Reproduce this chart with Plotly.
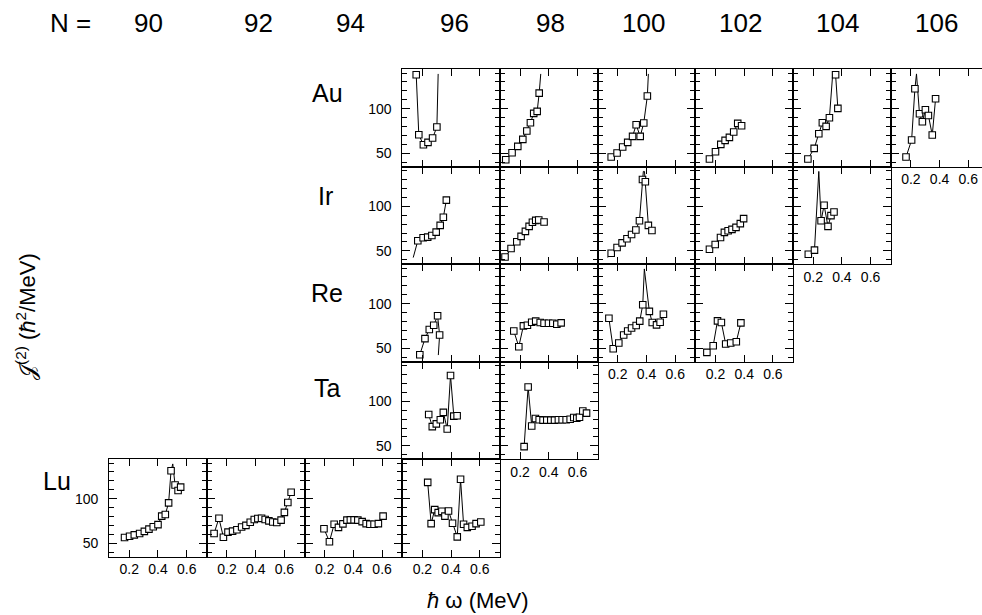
import plotly.graph_objects as go

# ---------------- data ----------------
N_LABELS = ["90", "92", "94", "96", "98", "100", "102", "104", "106"]
ELEMENTS = ["Au", "Ir", "Re", "Ta", "Lu"]
X_TICKS = [0.2, 0.4, 0.6]
X_TICKTEXT = ["0.2", "0.4", "0.6"]
Y_TICKS = [50, 100]
Y_MINOR = [40, 60, 70, 80, 90, 110, 120, 130, 140]

# hbar*omega (MeV) and J(2) (hbar^2/MeV); *_OFF = indices of points outside the frame (no symbol)
AU96_W = [0.157, 0.175, 0.207, 0.239, 0.271, 0.301, 0.310]
AU96_J = [138, 70.9, 59.7, 62.3, 67.2, 79.5, 139]
AU96_OFF = [6]
AU98_W = [0.100, 0.144, 0.184, 0.219, 0.247, 0.272, 0.295, 0.319, 0.333, 0.344]
AU98_J = [42.9, 50.7, 57.8, 65.7, 75.0, 84.3, 94.8, 97.0, 117.5, 139]
AU98_OFF = [9]
AU100_W = [0.154, 0.195, 0.234, 0.269, 0.303, 0.328, 0.356, 0.381, 0.406, 0.413]
AU100_J = [45.9, 50.4, 57.1, 62.3, 69.0, 82.1, 69.0, 84.0, 114.2, 139]
AU100_OFF = [9]
AU102_W = [0.158, 0.200, 0.237, 0.267, 0.297, 0.327, 0.355, 0.382]
AU102_J = [43.7, 51.9, 60.1, 64.6, 67.9, 73.9, 83.6, 81.0]
AU102_OFF = []
AU104_W = [0.163, 0.207, 0.239, 0.264, 0.290, 0.313, 0.336, 0.356, 0.372]
AU104_J = [43.7, 55.6, 72.0, 84.3, 80.2, 89.9, 139, 138.1, 100.4]
AU104_OFF = [6]
AU106_W = [0.166, 0.205, 0.228, 0.239, 0.260, 0.280, 0.301, 0.322, 0.349, 0.372]
AU106_J = [45.9, 64.9, 122.4, 139, 94.4, 85.4, 98.9, 92.5, 70.5, 111.2]
AU106_OFF = [3]

IR96_W = [0.136, 0.168, 0.205, 0.237, 0.266, 0.296, 0.324, 0.346, 0.367]
IR96_J = [42.5, 61.3, 64.7, 65.4, 67.3, 71.0, 78.6, 87.6, 106.8]
IR96_OFF = [0]
IR98_W = [0.095, 0.137, 0.177, 0.207, 0.237, 0.263, 0.286, 0.309, 0.330, 0.367]
IR98_J = [43.2, 52.6, 60.2, 66.2, 71.8, 77.4, 82.0, 84.2, 84.6, 82.3]
IR98_OFF = []
IR100_W = [0.130, 0.154, 0.195, 0.230, 0.264, 0.296, 0.326, 0.351, 0.372, 0.378, 0.386, 0.392, 0.413, 0.438]
IR100_J = [42.5, 47.4, 53.8, 59.0, 63.5, 68.4, 73.3, 83.8, 130, 139, 139, 127.5, 78.6, 72.9]
IR100_OFF = [0, 9, 10]
IR102_W = [0.158, 0.198, 0.235, 0.262, 0.288, 0.315, 0.343, 0.373, 0.396]
IR102_J = [51.9, 57.1, 65.0, 70.7, 72.6, 74.1, 76.3, 80.5, 86.1]
IR102_OFF = []
IR104_W = [0.166, 0.209, 0.239, 0.255, 0.276, 0.303, 0.324, 0.345]
IR104_J = [46.2, 50.8, 139, 83.8, 101.1, 77.4, 89.5, 93.6]
IR104_OFF = [2]

RE96_W = [0.182, 0.218, 0.248, 0.279, 0.306, 0.320, 0.311]
RE96_J = [42.9, 60.9, 71.1, 75.9, 86.5, 65.0, 42.5]
RE96_OFF = [6]
RE98_W = [0.156, 0.191, 0.223, 0.251, 0.281, 0.309, 0.340, 0.367, 0.398, 0.428, 0.456, 0.486]
RE98_J = [69.5, 51.9, 75.2, 75.9, 79.3, 80.5, 78.9, 78.2, 78.2, 78.2, 77.1, 78.6]
RE98_OFF = []
RE100_W = [0.138, 0.168, 0.207, 0.241, 0.269, 0.296, 0.328, 0.353, 0.374, 0.385, 0.420, 0.440, 0.470, 0.495, 0.518]
RE100_J = [83.8, 49.6, 56.0, 65.0, 69.5, 72.9, 75.6, 80.5, 98.9, 139, 91.4, 78.9, 76.3, 79.3, 88.3]
RE100_OFF = [9]
RE102_W = [0.140, 0.184, 0.214, 0.241, 0.271, 0.306, 0.345, 0.377]
RE102_J = [45.5, 53.0, 80.8, 78.9, 54.9, 56.0, 57.5, 78.6]
RE102_OFF = []

TA96_W = [0.244, 0.269, 0.297, 0.325, 0.346, 0.373, 0.396, 0.419, 0.442]
TA96_J = [85.2, 71.6, 74.6, 79.2, 87.5, 68.9, 128.8, 83.3, 83.7]
TA96_OFF = []
TA98_W = [0.228, 0.256, 0.281, 0.307, 0.333, 0.360, 0.386, 0.414, 0.440, 0.467, 0.493, 0.521,
          0.549, 0.574, 0.595, 0.614, 0.637, 0.663]
TA98_J = [49.2, 115.9, 72.3, 80.7, 79.2, 78.8, 78.8, 78.8, 78.8, 79.2, 79.2, 79.2,
          79.9, 81.8, 81.0, 82.0, 89.0, 86.7]
TA98_OFF = []

LU90_W = [0.167, 0.202, 0.235, 0.272, 0.305, 0.337, 0.367, 0.400, 0.426, 0.451, 0.474, 0.491,
          0.503, 0.519, 0.540, 0.558]
LU90_J = [56.5, 58.0, 59.5, 61.0, 63.4, 66.0, 68.7, 71.0, 80.5, 82.4, 95.4, 131.3,
          139, 115.3, 109.2, 113.0]
LU90_OFF = [12]
LU92_W = [0.110, 0.144, 0.175, 0.207, 0.239, 0.269, 0.302, 0.332, 0.362, 0.390, 0.415, 0.441,
          0.466, 0.492, 0.519, 0.547, 0.577, 0.600, 0.624, 0.647]
LU92_J = [61.1, 78.2, 56.9, 62.6, 63.7, 65.3, 68.3, 70.2, 73.7, 76.7, 77.9, 78.2,
          76.7, 75.2, 74.0, 73.3, 76.0, 84.7, 95.8, 107.3]
LU92_OFF = []
LU94_W = [0.195, 0.233, 0.266, 0.296, 0.327, 0.355, 0.379, 0.405, 0.431, 0.461, 0.489, 0.515,
          0.544, 0.574, 0.607]
LU94_J = [66.4, 51.9, 71.4, 67.9, 71.8, 76.0, 76.3, 76.3, 76.0, 74.4, 72.1, 71.4,
          71.4, 72.1, 80.5]
LU94_OFF = []
LU96_W = [0.237, 0.261, 0.286, 0.310, 0.336, 0.357, 0.382, 0.410, 0.443, 0.466, 0.487, 0.513,
          0.546, 0.574, 0.607]
LU96_J = [118.3, 72.1, 87.8, 84.4, 85.9, 80.5, 86.3, 72.5, 57.3, 121.8, 71.4, 67.9,
          69.1, 72.1, 74.0]
LU96_OFF = []

# (row, column, x, y, off-scale indices)
PANELS = [
    (0, 3, AU96_W, AU96_J, AU96_OFF), (0, 4, AU98_W, AU98_J, AU98_OFF),
    (0, 5, AU100_W, AU100_J, AU100_OFF), (0, 6, AU102_W, AU102_J, AU102_OFF),
    (0, 7, AU104_W, AU104_J, AU104_OFF), (0, 8, AU106_W, AU106_J, AU106_OFF),
    (1, 3, IR96_W, IR96_J, IR96_OFF), (1, 4, IR98_W, IR98_J, IR98_OFF),
    (1, 5, IR100_W, IR100_J, IR100_OFF), (1, 6, IR102_W, IR102_J, IR102_OFF),
    (1, 7, IR104_W, IR104_J, IR104_OFF),
    (2, 3, RE96_W, RE96_J, RE96_OFF), (2, 4, RE98_W, RE98_J, RE98_OFF),
    (2, 5, RE100_W, RE100_J, RE100_OFF), (2, 6, RE102_W, RE102_J, RE102_OFF),
    (3, 3, TA96_W, TA96_J, TA96_OFF), (3, 4, TA98_W, TA98_J, TA98_OFF),
    (4, 0, LU90_W, LU90_J, LU90_OFF), (4, 1, LU92_W, LU92_J, LU92_OFF),
    (4, 2, LU94_W, LU94_J, LU94_OFF), (4, 3, LU96_W, LU96_J, LU96_OFF),
]

# ---------------- layout geometry (pixels) ----------------
W, H = 982, 615
X0, CW = 109.2, 97.7      # first column left edge, column width
Y0, RH = 69.0, 97.5       # first row top edge, row height
X_MIN, X_PPU = 0.06, 143.5  # x-axis start value, pixels per MeV
Y_RANGE = [35.3, 144.5]
FONT = "Liberation Sans, Arial, Helvetica, sans-serif"
TICK_COLOR = "black"

occupied = {(r, c) for r, c, *_ in PANELS}
row_first = {}
for r, c, *_ in PANELS:
    row_first[r] = min(row_first.get(r, 99), c)

fig = go.Figure()
layout = dict(
    width=W, height=H, autosize=False,
    margin=dict(l=0, r=0, t=0, b=0),
    paper_bgcolor="white", plot_bgcolor="rgba(0,0,0,0)",
    showlegend=False,
    font=dict(family=FONT, color="black"),
)

for i, (r, c, xs, ys, off) in enumerate(PANELS, start=1):
    left = X0 + c * CW
    right = min(left + CW, W)
    top = Y0 + r * RH
    bottom = top + RH
    is_bottom = (r + 1, c) not in occupied
    is_left = row_first[r] == c
    opac = [0 if k in off else 1 for k in range(len(xs))]
    sfx = "" if i == 1 else str(i)
    fig.add_trace(go.Scatter(
        x=xs, y=ys, mode="lines+markers",
        xaxis="x" + sfx, yaxis="y" + sfx,
        line=dict(color="black", width=1),
        marker=dict(symbol="square", size=6.5, color="white", opacity=opac,
                    line=dict(color="black", width=1.1)),
        hoverinfo="skip",
    ))
    layout["xaxis" + sfx] = dict(
        domain=[left / W, right / W],
        range=[X_MIN, X_MIN + (right - left) / X_PPU],
        anchor="y" + sfx, tickmode="array", tickvals=X_TICKS, ticktext=X_TICKTEXT,
        showticklabels=is_bottom, ticks="inside", ticklen=7, tickwidth=1.4,
        tickcolor=TICK_COLOR, mirror="ticks", showline=True, linecolor="black",
        linewidth=1, showgrid=False, zeroline=False,
        tickfont=dict(size=14, family=FONT, color="black"),
    )
    layout["yaxis" + sfx] = dict(
        domain=[1 - bottom / H, 1 - top / H],
        range=Y_RANGE, anchor="x" + sfx, tickmode="array", tickvals=Y_TICKS,
        showticklabels=is_left, ticks="inside", ticklen=8, tickwidth=1.4,
        tickcolor=TICK_COLOR, mirror=("ticks" if c < 8 else False), showline=True,
        linecolor="black", linewidth=1, showgrid=False, zeroline=False,
        minor=dict(tickvals=Y_MINOR, ticks="inside", ticklen=5, tickwidth=1.4,
                   tickcolor=TICK_COLOR, showgrid=False),
        tickfont=dict(size=14, family=FONT, color="black"), ticklabelstandoff=7,
    )

annotations = []
annotations.append(dict(x=70 / W, y=1 - 23 / H, xref="paper", yref="paper",
                        text="N =", showarrow=False, xanchor="center", yanchor="middle",
                        font=dict(size=26, family=FONT, color="black")))
N_POS = [148, 258, 350, 454, 550, 643, 740, 837, 936]
for lab, px in zip(N_LABELS, N_POS):
    annotations.append(dict(x=px / W, y=1 - 23 / H, xref="paper", yref="paper",
                            text=lab, showarrow=False, xanchor="center", yanchor="middle",
                            font=dict(size=26, family=FONT, color="black")))
EL_POS = [(327, 93), (325, 196), (327, 293), (327, 388), (57, 481)]
for lab, (px, py) in zip(ELEMENTS, EL_POS):
    annotations.append(dict(x=px / W, y=1 - py / H, xref="paper", yref="paper",
                            text=lab, showarrow=False, xanchor="center", yanchor="middle",
                            font=dict(size=25, family=FONT, color="black")))
annotations.append(dict(x=26 / W, y=1 - 317 / H, xref="paper", yref="paper",
                        text="\U0001D4A5<sup>(2)</sup> (<i>ħ</i><sup>2</sup>/MeV)",
                        textangle=-90, showarrow=False, xanchor="center", yanchor="middle",
                        font=dict(size=22, family=FONT, color="black")))
annotations.append(dict(x=478 / W, y=1 - 600 / H, xref="paper", yref="paper",
                        text="<i>ħ</i> ω (MeV)", showarrow=False,
                        xanchor="center", yanchor="middle",
                        font=dict(size=22, family=FONT, color="black")))
layout["annotations"] = annotations

fig.update_layout(**layout)
fig.write_html("out.html")
